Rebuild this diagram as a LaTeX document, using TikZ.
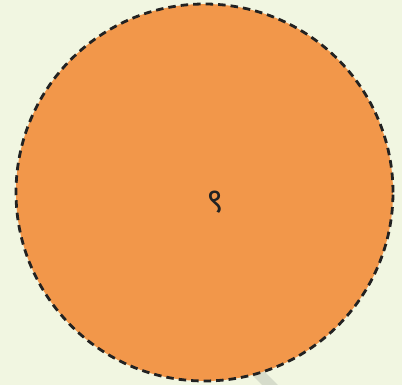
\documentclass[tikz,border=0pt]{standalone}
\usepackage{fontspec}
\newfontfamily\devfont[Script=Devanagari]{Noto Sans}
\definecolor{bgc}{RGB}{241,246,225}
\definecolor{orangec}{RGB}{242,151,74}
\definecolor{greyc}{RGB}{214,220,203}
\definecolor{inkc}{RGB}{34,34,34}
\begin{document}
\begin{tikzpicture}[x=1pt,y=-1pt,
  disc/.style={circle,draw=inkc,fill=orangec,line width=2.8pt,dash pattern=on 7.5pt off 5pt,minimum size=377pt,inner sep=0pt},
  digit/.style={text=inkc,font=\devfont\fontsize{34}{38}\selectfont,inner sep=0pt},
  link/.style={draw=greyc,line width=11pt}]
\fill[bgc] (0,0) rectangle (402,385);
\useasboundingbox (0,0) rectangle (402,385);
\coordinate (tailA) at (230,345);
\coordinate (tailB) at (300,415);
\draw[link] (tailA) -- (tailB);
\node[disc] (n) at (204.5,192.5) {};
\node[digit] (lbl) at (215,202) {९};
\end{tikzpicture}
\end{document}
